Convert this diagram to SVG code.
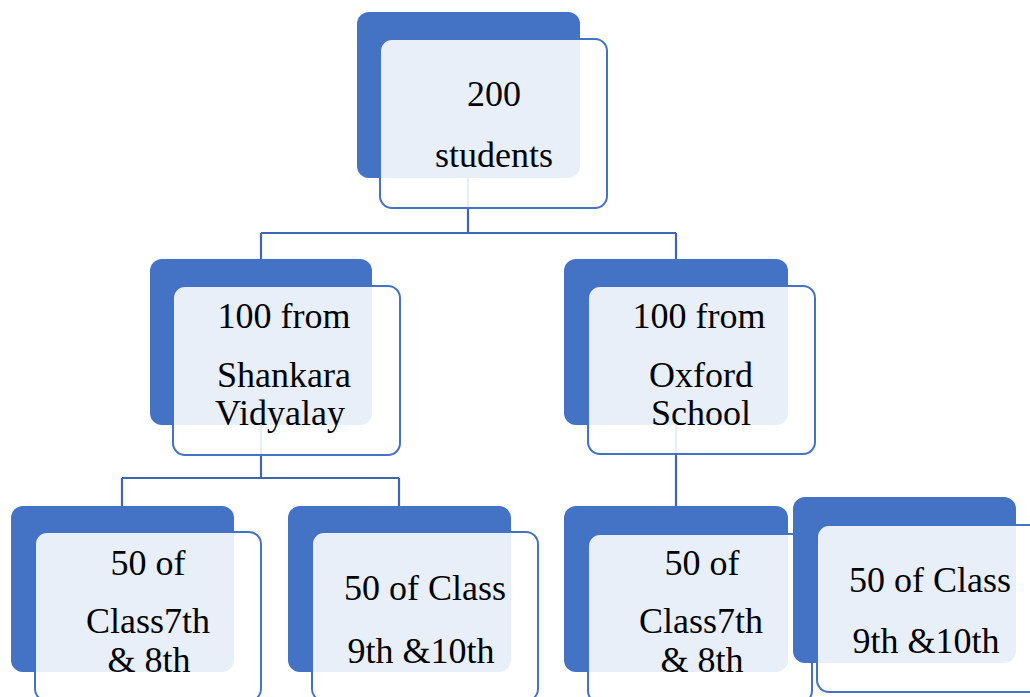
<svg xmlns="http://www.w3.org/2000/svg" width="1030" height="697" viewBox="0 0 1030 697">
<style>
.back{fill:#4472C4;}
.front{fill:#FFFFFF;fill-opacity:0.885;stroke:#4472C4;stroke-width:2;}
.conn{fill:none;stroke:#3F65B0;stroke-width:2.2;}
.t{font-size:36px;fill:#000;text-anchor:middle;}
</style>
<rect width="1030" height="697" fill="#FFFFFF"/>
<g id="connectors">
<path class="conn" d="M468,178 V233 M261,233 H676 M261,233 V259 M676,233 V259"/>
<path class="conn" d="M261,425 V478 M122,478 H399 M122,478 V506 M399,478 V506"/>
<path class="conn" d="M676,425 V506"/>
</g>
<g id="node-root">
<rect class="back" x="357" y="12" width="223" height="166" rx="12"/>
<rect class="front" x="380" y="39" width="227" height="169" rx="12"/>
<text class="t" font-family="Times New Roman" x="494" y="106">200</text>
<text class="t" font-family="Times New Roman" x="494" y="167">students</text>
</g>
<g id="node-shankara">
<rect class="back" x="150" y="259" width="222" height="166" rx="12"/>
<rect class="front" x="173" y="286" width="227" height="169" rx="12"/>
<text class="t" font-family="Times New Roman" x="284" y="328">100 from</text>
<text class="t" font-family="Times New Roman" x="284" y="387">Shankara</text>
<text class="t" font-family="Times New Roman" x="280" y="425">Vidyalay</text>
</g>
<g id="node-oxford">
<rect class="back" x="564" y="259" width="224" height="166" rx="12"/>
<rect class="front" x="588" y="286" width="227" height="168" rx="12"/>
<text class="t" font-family="Times New Roman" x="699" y="328">100 from</text>
<text class="t" font-family="Times New Roman" x="701" y="387">Oxford</text>
<text class="t" font-family="Times New Roman" x="701" y="425">School</text>
</g>
<g id="node-sv-7-8">
<rect class="back" x="11" y="506" width="223" height="166" rx="12"/>
<rect class="front" x="35" y="532" width="226" height="169" rx="12"/>
<text class="t" font-family="Times New Roman" x="148" y="575">50 of</text>
<text class="t" font-family="Times New Roman" x="148" y="633">Class7th</text>
<text class="t" font-family="Times New Roman" x="149" y="672">&amp; 8th</text>
</g>
<g id="node-sv-9-10">
<rect class="back" x="288" y="506" width="223" height="166" rx="12"/>
<rect class="front" x="312" y="532" width="226" height="169" rx="12"/>
<text class="t" font-family="Times New Roman" x="425" y="600">50 of Class</text>
<text class="t" font-family="Times New Roman" x="421" y="663">9th &amp;10th</text>
</g>
<g id="node-ox-7-8">
<rect class="back" x="564" y="506" width="224" height="166" rx="12"/>
<rect class="front" x="588" y="534" width="224" height="169" rx="12"/>
<text class="t" font-family="Times New Roman" x="702" y="575">50 of</text>
<text class="t" font-family="Times New Roman" x="701" y="633">Class7th</text>
<text class="t" font-family="Times New Roman" x="702" y="672">&amp; 8th</text>
</g>
<g id="node-ox-9-10">
<rect class="back" x="793" y="497" width="223" height="166" rx="12"/>
<rect class="front" x="817" y="525" width="226" height="167" rx="12"/>
<text class="t" font-family="Times New Roman" x="930" y="592">50 of Class</text>
<text class="t" font-family="Times New Roman" x="926" y="653">9th &amp;10th</text>
</g>
</svg>
